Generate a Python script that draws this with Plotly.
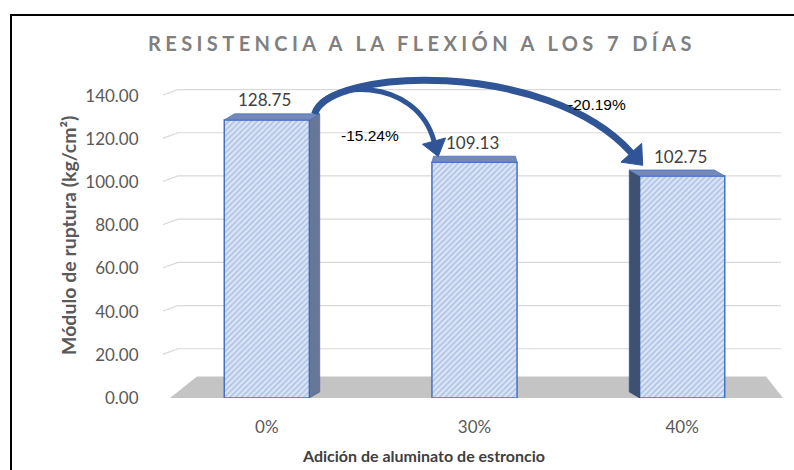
import plotly.graph_objects as go

# ---------------- data ----------------
categories = ["0%", "30%", "40%"]
values = [128.75, 109.13, 102.75]
value_labels = ["128.75", "109.13", "102.75"]
change_labels = ["-15.24%", "-20.19%"]
y_ticks = [0, 20, 40, 60, 80, 100, 120, 140]
y_tick_text = ["0.00", "20.00", "40.00", "60.00", "80.00", "100.00", "120.00", "140.00"]

title_text = "RESISTENCIA A LA FLEXIÓN A LOS 7 DÍAS"
x_title = "Adición de aluminato de estroncio"
y_title = "Módulo de ruptura (kg/cm²)"

# ---------------- layout constants ----------------
W, H = 794, 470
ML, MR, MT, MB = 163, 8, 74, 72
YMAX = 150
PW = W - ML - MR
PH = H - MT - MB
CAT_W = PW / len(categories)
PX_PER_UNIT = PH / YMAX

BAR_W = 0.41
DX = 0.05    # depth offset (category units)
DY = 2.8     # depth offset (value units)

FONT = "Lato"


def to_px(x, y):
    return ML + (x + 0.5) * CAT_W, H - MB - y * PX_PER_UNIT


def to_data(px, py):
    return (px - ML) / CAT_W - 0.5, (H - MB - py) / PX_PER_UNIT


def px_x(px):
    return (px - ML) / CAT_W - 0.5


def poly(points):
    return "M " + " L ".join(f"{x:.4f},{y:.4f}" for x, y in points) + " Z"


fig = go.Figure()

fig.add_trace(go.Bar(
    x=categories,
    y=values,
    width=BAR_W,
    marker=dict(
        color="#dae3f3",
        line=dict(color="#4472c4", width=1.5),
        pattern=dict(shape="/", fgcolor="#7f9ed6", bgcolor="#dce5f5", size=4, solidity=0.4),
    ),
    hoverinfo="skip",
    showlegend=False,
))

shapes = []

# back-wall gridlines with slanted left-wall piece
for t in y_ticks[1:]:
    shapes.append(dict(type="path", xref="x", yref="y", layer="below",
                       path=f"M {px_x(158):.4f},{t - 0.6:.4f} L {px_x(178):.4f},{t + DY:.4f} L {px_x(781):.4f},{t + DY:.4f}",
                       line=dict(color="#d9d9d9", width=1.2)))

# floor
floor_h = 10.0
shapes.append(dict(type="path", xref="x", yref="y", layer="between",
                   path=poly([(px_x(170), 0), (px_x(783), 0), (px_x(766), floor_h), (px_x(197), floor_h)]),
                   fillcolor="#c4c4c4", line=dict(width=0)))

side_color = "#66779a"
side_color2 = "#3f5172"
top_color = "#7489b8"

# bar 0: right side + top
i, v = 0, values[0]
shapes.append(dict(type="path", xref="x", yref="y",
                   path=poly([(i + BAR_W / 2, 0), (i + BAR_W / 2, v), (i + BAR_W / 2 + DX, v + DY), (i + BAR_W / 2 + DX, DY)]),
                   fillcolor=side_color, line=dict(color="#4a5a7a", width=0.5)))
shapes.append(dict(type="path", xref="x", yref="y",
                   path=poly([(i - BAR_W / 2, v), (i + BAR_W / 2, v), (i + BAR_W / 2 + DX, v + DY), (i - BAR_W / 2 + DX, v + DY)]),
                   fillcolor=top_color, line=dict(color="#4472c4", width=0.8)))
# bar 1: top only
i, v = 1, values[1]
shapes.append(dict(type="path", xref="x", yref="y",
                   path=poly([(i - BAR_W / 2, v), (i + BAR_W / 2, v), (i + BAR_W / 2 - 0.008, v + DY), (i - BAR_W / 2 + 0.008, v + DY)]),
                   fillcolor=top_color, line=dict(color="#4472c4", width=0.8)))
# bar 2: left side + top
i, v = 2, values[2]
shapes.append(dict(type="path", xref="x", yref="y",
                   path=poly([(i - BAR_W / 2, 0), (i - BAR_W / 2, v), (i - BAR_W / 2 - DX, v + DY), (i - BAR_W / 2 - DX, DY)]),
                   fillcolor=side_color2, line=dict(color="#34445f", width=0.5)))
shapes.append(dict(type="path", xref="x", yref="y",
                   path=poly([(i - BAR_W / 2, v), (i + BAR_W / 2, v), (i + BAR_W / 2 - DX, v + DY), (i - BAR_W / 2 - DX, v + DY)]),
                   fillcolor=top_color, line=dict(color="#4472c4", width=0.8)))

# curved arrows (built in pixel space from data anchors, then converted)
arrow_color = "#2f5597"


def bezier_arrow(p0, c1, c2, p3, width, head_len=15, head_half=11):
    pts = [to_data(*p) for p in (p0, c1, c2, p3)]
    path = "M {:.4f},{:.4f} C {:.4f},{:.4f} {:.4f},{:.4f} {:.4f},{:.4f}".format(
        *pts[0], *pts[1], *pts[2], *pts[3])
    shaft = dict(type="path", xref="x", yref="y", path=path,
                 line=dict(color=arrow_color, width=width))
    dxp, dyp = p3[0] - c2[0], p3[1] - c2[1]
    n = (dxp ** 2 + dyp ** 2) ** 0.5
    ux, uy = dxp / n, dyp / n
    nx, ny = -uy, ux
    tip = (p3[0] + ux * head_len, p3[1] + uy * head_len)
    b1 = (p3[0] + nx * head_half, p3[1] + ny * head_half)
    b2 = (p3[0] - nx * head_half, p3[1] - ny * head_half)
    head = dict(type="path", xref="x", yref="y",
                path=poly([to_data(*tip), to_data(*b1), to_data(*b2)]),
                fillcolor=arrow_color, line=dict(color=arrow_color, width=1))
    return [shaft, head]


start = to_px(0 + BAR_W / 2 + DX * 0.5, values[0] + DY)
end1 = to_px(1 - BAR_W / 2 + 0.01, values[1] + DY + 7)
end2 = to_px(2 - BAR_W / 2 - 0.04, values[2] + DY + 8)

shapes += bezier_arrow(start, (start[0] + 8, start[1] - 34), (end1[0] - 18, end1[1] - 66), end1, 5,
                       head_len=16, head_half=12)
shapes += bezier_arrow(start, (start[0] + 14, start[1] - 46), (end2[0] - 85, end2[1] - 94), end2, 7,
                       head_len=17, head_half=14)

# outer frame
shapes.append(dict(type="rect", xref="paper", yref="paper",
                   x0=(11 - ML) / PW, x1=(805 - ML) / PW,
                   y0=(H - MB - 490) / PH, y1=(H - MB - 15) / PH,
                   line=dict(color="black", width=2), fillcolor="rgba(0,0,0,0)"))

annotations = []
# value labels
for i, (v, t) in enumerate(zip(values, value_labels)):
    annotations.append(dict(x=i, y=v, xref="x", yref="y", text=t, showarrow=False,
                            yanchor="middle", yshift=20, xshift=-2,
                            font=dict(family=FONT, size=17, color="#404040")))
# change labels
cx1, cy1 = to_data(370, 135)
cx2, cy2 = to_data(597, 104)
annotations.append(dict(x=cx1, y=cy1, xref="x", yref="y", text=change_labels[0], showarrow=False,
                        font=dict(family="Liberation Sans", size=15.5, color="black")))
annotations.append(dict(x=cx2, y=cy2, xref="x", yref="y", text=change_labels[1], showarrow=False,
                        font=dict(family="Liberation Sans", size=15.5, color="black")))
# title
annotations.append(dict(x=(422 - ML) / PW, y=(H - MB - 43) / PH, xref="paper", yref="paper",
                        text=f'<span style="letter-spacing:4.4px">{title_text}</span>',
                        showarrow=False, yanchor="middle", xanchor="center",
                        font=dict(family=FONT, size=20, color="#808080", weight="bold")))
# x axis title
annotations.append(dict(x=(423 - ML) / PW, y=(H - MB - 455) / PH, xref="paper", yref="paper",
                        text=x_title, showarrow=False, yanchor="middle", xanchor="center",
                        font=dict(family=FONT, size=16, color="#404040", weight="bold")))
# y axis title
annotations.append(dict(x=(68 - ML) / PW, y=(H - MB - 236) / PH, xref="paper", yref="paper",
                        text=y_title, showarrow=False, yanchor="middle", xanchor="center",
                        textangle=-90,
                        font=dict(family=FONT, size=19.5, color="#595959", weight="bold")))

fig.update_layout(
    width=W, height=H,
    margin=dict(l=ML, r=MR, t=MT, b=MB, autoexpand=False),
    paper_bgcolor="white", plot_bgcolor="white",
    shapes=shapes, annotations=annotations,
    xaxis=dict(
        type="category",
        showgrid=False, showline=False, zeroline=False,
        ticks="outside", ticklen=14, tickcolor="rgba(0,0,0,0)",
        tickfont=dict(family=FONT, size=17, color="#595959"),
        range=[-0.5, 2.5],
        automargin=False,
    ),
    yaxis=dict(
        range=[0, YMAX],
        tickvals=y_ticks, ticktext=y_tick_text,
        showgrid=False,
        zeroline=False, showline=False,
        ticks="outside", ticklen=20, tickcolor="rgba(0,0,0,0)",
        tickfont=dict(family=FONT, size=17, color="#595959"),
        automargin=False,
    ),
)

fig.write_html("out.html", config={"displayModeBar": False},
               post_script="document.body.style.margin='0';document.body.style.overflow='hidden';")
